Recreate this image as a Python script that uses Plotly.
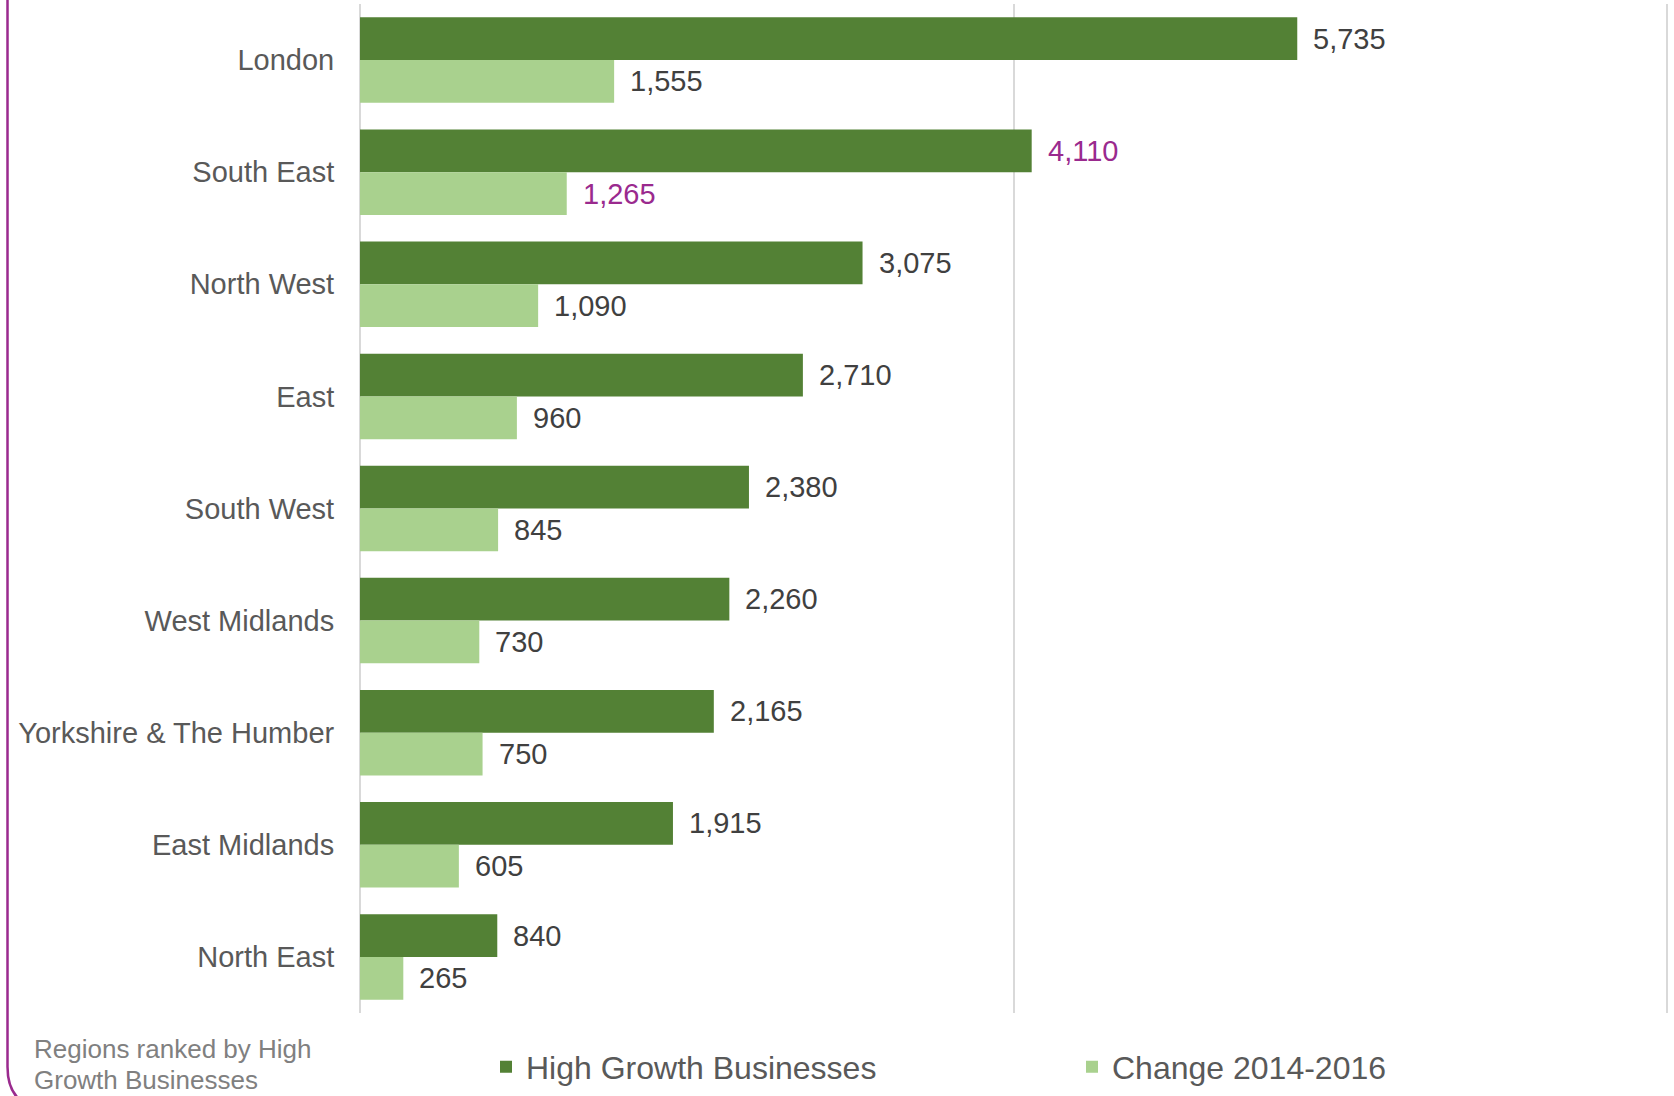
import plotly.graph_objects as go

# Regional counts of high growth businesses, ranked
regions = [
    "London", "South East", "North West", "East", "South West",
    "West Midlands", "Yorkshire & The Humber", "East Midlands", "North East",
]
high_growth = [5735, 4110, 3075, 2710, 2380, 2260, 2165, 1915, 840]
change_2014_2016 = [1555, 1265, 1090, 960, 845, 730, 750, 605, 265]
highlight_region = "South East"

DARK_GREEN = "#538135"
LIGHT_GREEN = "#A9D18E"
PURPLE = "#9A2A8E"
LABEL_GREY = "#404040"
AXIS_GREY = "#595959"
GRID_GREY = "#D9D9D9"
FONT = "Liberation Sans, Arial, sans-serif"

W, H = 1674, 1096
M_L, M_R, M_T, M_B = 360, 2, 4, 80
PLOT_W = W - M_L - M_R
PLOT_H = H - M_T - M_B
X_MAX = 8028


def px_to_paper_x(px):
    return (px - M_L) / PLOT_W


def px_to_paper_y(py):
    return (H - M_B - py) / PLOT_H


fig = go.Figure()
fig.add_trace(go.Bar(
    y=regions, x=high_growth, orientation="h", name="High Growth Businesses",
    marker=dict(color=DARK_GREEN, line=dict(width=0)),
))
fig.add_trace(go.Bar(
    y=regions, x=change_2014_2016, orientation="h", name="Change 2014-2016",
    marker=dict(color=LIGHT_GREEN, line=dict(width=0)),
))

bargap = 0.2375
half_offset_px = (1 - bargap) / 4 * PLOT_H / len(regions)

annotations = []
for region, v1, v2 in zip(regions, high_growth, change_2014_2016):
    colour = PURPLE if region == highlight_region else LABEL_GREY
    for val, shift in ((v1, half_offset_px), (v2, -half_offset_px)):
        annotations.append(dict(
            x=val, y=region, xref="x", yref="y", text=f"{val:,}",
            showarrow=False, xanchor="left", yanchor="middle",
            xshift=14, yshift=shift,
            font=dict(family=FONT, size=29, color=colour),
        ))

# Footnote under the category labels
for text, py in (("Regions ranked by High", 1052), ("Growth Businesses", 1083)):
    annotations.append(dict(
        x=px_to_paper_x(32), y=px_to_paper_y(py), xref="paper", yref="paper",
        text=text, showarrow=False, xanchor="left", yanchor="middle",
        font=dict(family=FONT, size=26, color="#808080"),
    ))

# Rounded purple frame edge on the left
x0 = px_to_paper_x(7.5)
frame_path = (
    f"M {x0},{px_to_paper_y(-5)} L {x0},{px_to_paper_y(1070)} "
    f"Q {x0},{px_to_paper_y(1112)} {px_to_paper_x(50)},{px_to_paper_y(1112)}"
)

fig.update_layout(
    width=W, height=H,
    margin=dict(l=M_L, r=M_R, t=M_T, b=M_B, pad=0),
    paper_bgcolor="white", plot_bgcolor="white",
    barmode="group", bargap=bargap, bargroupgap=0,
    font=dict(family=FONT, color=AXIS_GREY),
    xaxis=dict(
        range=[0, X_MAX], tickvals=[0, 4000, 8000], showticklabels=False,
        showgrid=True, gridcolor=GRID_GREY, gridwidth=2,
        zeroline=True, zerolinecolor=GRID_GREY, zerolinewidth=2,
        showline=False, fixedrange=True,
    ),
    yaxis=dict(
        type="category", autorange="reversed",
        tickfont=dict(family=FONT, size=29, color=AXIS_GREY),
        ticks="outside", ticklen=19, tickcolor="rgba(0,0,0,0)",
        showgrid=False, zeroline=False, showline=False,
    ),
    legend=dict(
        orientation="h", x=px_to_paper_x(486), xanchor="left",
        y=px_to_paper_y(1070), yanchor="middle",
        font=dict(family=FONT, size=32, color=AXIS_GREY),
        entrywidth=541, entrywidthmode="pixels",
        itemwidth=30, bgcolor="rgba(0,0,0,0)", traceorder="normal",
    ),
    annotations=annotations,
    shapes=[dict(
        type="path", xref="paper", yref="paper", path=frame_path,
        line=dict(color=PURPLE, width=2.5), layer="above",
    )],
    showlegend=True,
)

fig.write_html("out.html")
